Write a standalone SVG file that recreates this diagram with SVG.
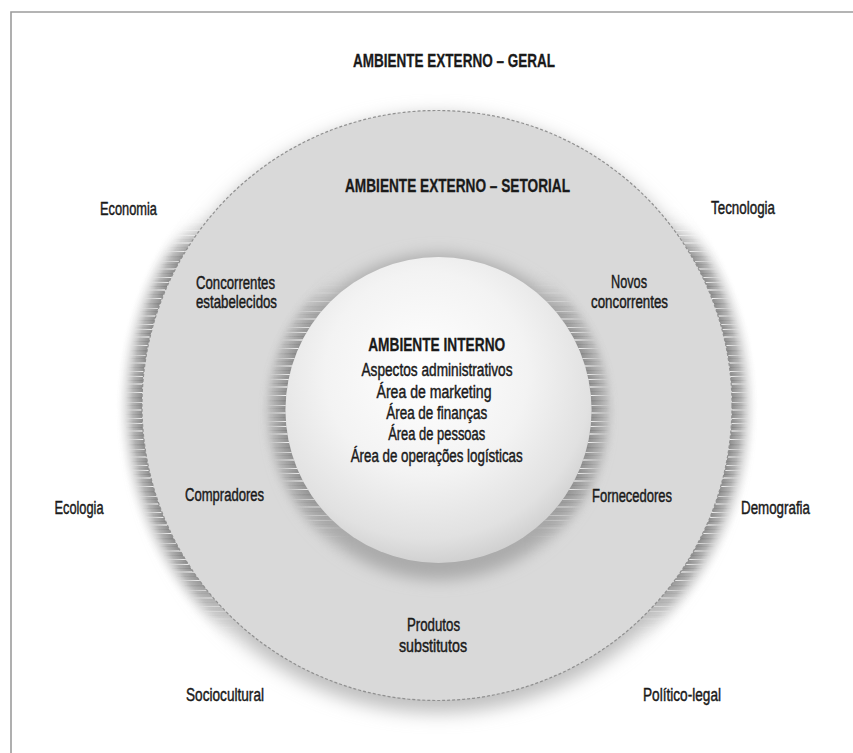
<svg xmlns="http://www.w3.org/2000/svg" width="853" height="753" viewBox="0 0 853 753">
<defs>
<style>
.t{font-family:"Liberation Sans Narrow","Liberation Sans",Arial,sans-serif;font-size:18px;fill:#1a1a1a;stroke:#1a1a1a;stroke-width:0.45px}
.b{font-weight:bold;stroke-width:0.3px}
.m{text-anchor:middle}
</style>
<filter id="blurOuter" x="-20%" y="-20%" width="140%" height="140%"><feGaussianBlur stdDeviation="9"/></filter>
<filter id="blurInner" x="-25%" y="-25%" width="150%" height="150%"><feGaussianBlur stdDeviation="7.5"/></filter>
<filter id="mblur" x="-50%" y="-50%" width="200%" height="200%"><feGaussianBlur stdDeviation="14"/></filter>
<pattern id="streaks" patternUnits="userSpaceOnUse" x="0" y="0" width="853" height="47">
<rect y="0" width="853" height="1" fill="#fff" opacity=".85"/>
<rect y="4" width="853" height="1" fill="#6a6a6a" opacity=".35"/>
<rect y="7" width="853" height="2" fill="#fff" opacity=".6"/>
<rect y="12" width="853" height="1" fill="#707070" opacity=".3"/>
<rect y="16" width="853" height="1" fill="#fff" opacity=".9"/>
<rect y="21" width="853" height="1.5" fill="#666" opacity=".3"/>
<rect y="26" width="853" height="1" fill="#fff" opacity=".7"/>
<rect y="29" width="853" height="1" fill="#7a7a7a" opacity=".35"/>
<rect y="33" width="853" height="2" fill="#fff" opacity=".55"/>
<rect y="38" width="853" height="1" fill="#6f6f6f" opacity=".3"/>
<rect y="42" width="853" height="1" fill="#fff" opacity=".85"/>
<rect y="45" width="853" height="1" fill="#858585" opacity=".3"/>
</pattern>
<clipPath id="outerRing"><path clip-rule="evenodd" d="M437,83.5a322,322 0 1,0 0.01,0Z M437,110.5a295,295 0 1,0 0.01,0Z"/></clipPath>
<clipPath id="innerRing"><path clip-rule="evenodd" d="M438.5,230a180,180 0 1,0 0.01,0Z M438.5,257a153,153 0 1,0 0.01,0Z"/></clipPath>
<mask id="sideMaskO" maskUnits="userSpaceOnUse" x="0" y="0" width="853" height="753">
<rect width="853" height="753" fill="#000"/>
<rect x="90" y="240" width="122" height="412" fill="#fff" filter="url(#mblur)"/>
<rect x="662" y="240" width="122" height="412" fill="#fff" filter="url(#mblur)"/>
</mask>
<mask id="sideMaskI" maskUnits="userSpaceOnUse" x="0" y="0" width="853" height="753">
<rect width="853" height="753" fill="#000"/>
<rect x="240" y="285" width="80" height="270" fill="#fff" filter="url(#mblur)"/>
<rect x="557" y="285" width="80" height="270" fill="#fff" filter="url(#mblur)"/>
</mask>
<radialGradient id="outerBand" gradientUnits="userSpaceOnUse" cx="437" cy="405.5" r="322">
<stop offset=".916" stop-color="#8e8e8e" stop-opacity="1"/>
<stop offset=".945" stop-color="#a5a5a5" stop-opacity=".8"/>
<stop offset=".975" stop-color="#d0d0d0" stop-opacity=".35"/>
<stop offset="1" stop-color="#fff" stop-opacity="0"/>
</radialGradient>
<radialGradient id="outerFade" gradientUnits="userSpaceOnUse" cx="437" cy="405.5" r="322">
<stop offset=".916" stop-color="#fff"/><stop offset=".97" stop-color="#000"/>
</radialGradient>
<mask id="outerFadeMask" maskUnits="userSpaceOnUse" x="0" y="0" width="853" height="753"><rect width="853" height="753" fill="url(#outerFade)"/></mask>
<radialGradient id="innerBand" gradientUnits="userSpaceOnUse" cx="438.5" cy="410" r="180">
<stop offset=".85" stop-color="#8e8e8e" stop-opacity=".9"/>
<stop offset=".93" stop-color="#a8a8a8" stop-opacity=".55"/>
<stop offset="1" stop-color="#d9d9d9" stop-opacity="0"/>
</radialGradient>
<radialGradient id="innerFade" gradientUnits="userSpaceOnUse" cx="438.5" cy="410" r="180">
<stop offset=".85" stop-color="#fff"/><stop offset=".96" stop-color="#000"/>
</radialGradient>
<mask id="innerFadeMask" maskUnits="userSpaceOnUse" x="0" y="0" width="853" height="753"><rect width="853" height="753" fill="url(#innerFade)"/></mask>
<radialGradient id="sphere" cx=".46" cy=".38" r=".66">
<stop offset="0" stop-color="#ffffff"/>
<stop offset=".5" stop-color="#f3f3f3"/>
<stop offset=".82" stop-color="#e1e1e1"/>
<stop offset="1" stop-color="#c9c9c9"/>
</radialGradient>
</defs>

<rect width="853" height="753" fill="#fff"/>
<g id="frame"><path d="M11,753V12H853" fill="none" stroke="#9c9c9c" stroke-width="1.6"/></g>

<g id="ambiente-externo-geral-shadow">
<circle cx="437" cy="414" r="299" fill="#c0c0c0" filter="url(#blurOuter)"/>
<g clip-path="url(#outerRing)" mask="url(#sideMaskO)">
<circle cx="437" cy="405.5" r="322" fill="url(#outerBand)"/>
<g mask="url(#outerFadeMask)"><rect x="0" y="0" width="853" height="753" fill="url(#streaks)"/></g>
</g>
</g>

<g id="ambiente-externo-setorial">
<circle cx="437" cy="405.5" r="295" fill="#d9d9d9" stroke="#909090" stroke-width="1.2" stroke-dasharray="3 2"/>
</g>

<g id="ambiente-interno">
<circle cx="438.5" cy="417" r="163" fill="#ababab" filter="url(#blurInner)"/>
<g clip-path="url(#innerRing)" mask="url(#sideMaskI)">
<circle cx="438.5" cy="410" r="180" fill="url(#innerBand)"/>
<g mask="url(#innerFadeMask)"><rect x="0" y="0" width="853" height="753" fill="url(#streaks)" transform="translate(0,3)"/></g>
</g>
<circle cx="438.5" cy="410" r="153" fill="url(#sphere)"/>
<text class="t b m" x="436.7" y="350.5" textLength="137" lengthAdjust="spacingAndGlyphs">AMBIENTE INTERNO</text>
<text class="t m" x="437" y="376" textLength="151" lengthAdjust="spacingAndGlyphs">Aspectos administrativos</text>
<text class="t m" x="434" y="397.5" textLength="115" lengthAdjust="spacingAndGlyphs">Área de marketing</text>
<text class="t m" x="436.7" y="419" textLength="101" lengthAdjust="spacingAndGlyphs">Área de finanças</text>
<text class="t m" x="436.7" y="440" textLength="97" lengthAdjust="spacingAndGlyphs">Área de pessoas</text>
<text class="t m" x="436.7" y="461.5" textLength="172" lengthAdjust="spacingAndGlyphs">Área de operações logísticas</text>
</g>

<g id="connectors"></g>

<g id="label-geral"><text class="t b m" x="454" y="66.5" textLength="202" lengthAdjust="spacingAndGlyphs">AMBIENTE EXTERNO – GERAL</text></g>
<g id="label-setorial"><text class="t b m" x="457.5" y="192" textLength="225" lengthAdjust="spacingAndGlyphs">AMBIENTE EXTERNO – SETORIAL</text></g>

<g id="economia"><text class="t" x="100" y="214.5" textLength="57" lengthAdjust="spacingAndGlyphs">Economia</text></g>
<g id="tecnologia"><text class="t" x="711" y="214" textLength="64" lengthAdjust="spacingAndGlyphs">Tecnologia</text></g>
<g id="ecologia"><text class="t" x="54.5" y="514" textLength="49" lengthAdjust="spacingAndGlyphs">Ecologia</text></g>
<g id="demografia"><text class="t" x="741" y="514" textLength="69" lengthAdjust="spacingAndGlyphs">Demografia</text></g>
<g id="sociocultural"><text class="t" x="186" y="701" textLength="78" lengthAdjust="spacingAndGlyphs">Sociocultural</text></g>
<g id="politico-legal"><text class="t" x="643" y="701" textLength="78" lengthAdjust="spacingAndGlyphs">Político-legal</text></g>

<g id="concorrentes-estabelecidos">
<text class="t" x="196" y="289" textLength="79" lengthAdjust="spacingAndGlyphs">Concorrentes</text>
<text class="t" x="196" y="307.5" textLength="81" lengthAdjust="spacingAndGlyphs">estabelecidos</text>
</g>
<g id="novos-concorrentes">
<text class="t" x="611" y="288" textLength="36" lengthAdjust="spacingAndGlyphs">Novos</text>
<text class="t" x="591" y="307.5" textLength="77" lengthAdjust="spacingAndGlyphs">concorrentes</text>
</g>
<g id="compradores"><text class="t" x="185" y="501" textLength="79" lengthAdjust="spacingAndGlyphs">Compradores</text></g>
<g id="fornecedores"><text class="t" x="592" y="502" textLength="80" lengthAdjust="spacingAndGlyphs">Fornecedores</text></g>
<g id="produtos-substitutos">
<text class="t" x="407" y="631" textLength="53" lengthAdjust="spacingAndGlyphs">Produtos</text>
<text class="t" x="399" y="652" textLength="68" lengthAdjust="spacingAndGlyphs">substitutos</text>
</g>
</svg>
